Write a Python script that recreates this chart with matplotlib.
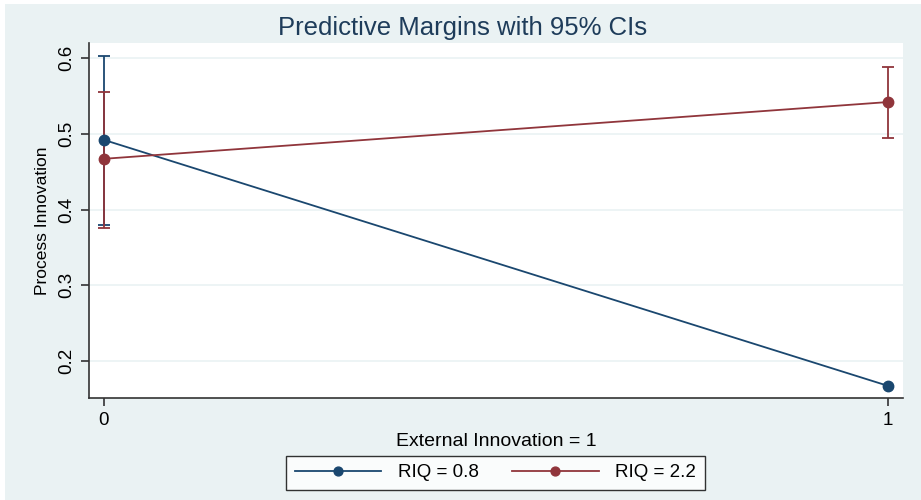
import matplotlib
matplotlib.use("Agg")
import matplotlib.pyplot as plt
from matplotlib.patches import Rectangle

plt.rcParams['font.family'] = ['Liberation Sans', 'DejaVu Sans']

# data
ext_innov = [0, 1]
groups = ['RIQ = 0.8', 'RIQ = 2.2']
margins = {
    'RIQ = 0.8': [0.492, 0.167],
    'RIQ = 2.2': [0.467, 0.542],
}
ci_low = {
    'RIQ = 0.8': [0.379, 0.167],
    'RIQ = 2.2': [0.376, 0.495],
}
ci_high = {
    'RIQ = 0.8': [0.603, 0.167],
    'RIQ = 2.2': [0.555, 0.588],
}
colors = {'RIQ = 0.8': '#1a476f', 'RIQ = 2.2': '#90353b'}
yticks = [0.2, 0.3, 0.4, 0.5, 0.6]
bg = '#eaf2f3'

fig = plt.figure(figsize=(9.21, 5), dpi=100)
fig.patch.set_facecolor('white')
fig.add_artist(Rectangle((5 / 921, 0), 1, 496 / 500, transform=fig.transFigure,
                         facecolor=bg, edgecolor='none', zorder=-10))

ax = fig.add_axes([89 / 921, 102 / 500, 814 / 921, 355 / 500])
ax.set_facecolor('white')

for g in groups:
    y = margins[g]
    lo = [m - l for m, l in zip(y, ci_low[g])]
    hi = [h - m for m, h in zip(y, ci_high[g])]
    c = colors[g]
    # only draw bars where the interval has width
    for xi, yi, l, h in zip(ext_innov, y, lo, hi):
        if l + h > 0:
            ax.errorbar([xi], [yi], yerr=[[l], [h]], fmt='none', ecolor=c,
                        elinewidth=1.3, capsize=4.5, capthick=1.3, zorder=2)
    ax.plot(ext_innov, y, color=c, lw=1.3, marker='o', markersize=7.5,
            label=g, zorder=3)

ax.set_xlim(-0.019, 1.019)
ax.set_ylim(0.151, 0.620)
ax.set_xticks([0, 1])
ax.set_xticklabels(['0', '1'])
ax.set_yticks(yticks)
ax.set_yticklabels([f'{t:.1f}' for t in yticks], rotation=90, va='center')
ax.grid(axis='y', color=bg, lw=1.2)
ax.set_axisbelow(True)
for s in ['top', 'right']:
    ax.spines[s].set_visible(False)
for s in ['left', 'bottom']:
    ax.spines[s].set_color('#333333')
    ax.spines[s].set_linewidth(1.2)
ax.tick_params(length=6, width=1.2, color='#333333', labelsize=13.5, pad=4)

ax.set_xlabel('External Innovation = 1', fontsize=14, labelpad=3)
ax.set_ylabel('Process Innovation', fontsize=12.5, labelpad=6)

fig.text(0.502, 0.944, 'Predictive Margins with 95% CIs', ha='center', va='center',
         fontsize=18.5, color='#1e3c5a')

h, l = ax.get_legend_handles_labels()
leg = fig.legend(h, l, loc='center', bbox_to_anchor=(0.538, 0.055), ncol=2,
                 fontsize=13.5, frameon=True, fancybox=False, handlelength=4.6,
                 handletextpad=0.9, columnspacing=1.8, borderpad=0.45,
                 markerscale=0.85)
leg.get_frame().set_edgecolor('black')
leg.get_frame().set_linewidth(1.0)

plt.savefig('out.png', dpi=100, facecolor=fig.get_facecolor())
